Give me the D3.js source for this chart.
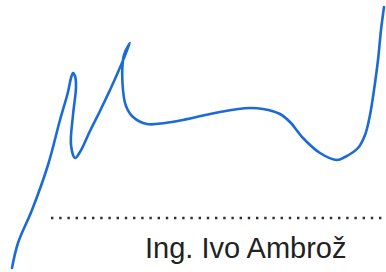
<!DOCTYPE html>
<html>
<head>
<meta charset="utf-8">
<script src="https://cdn.jsdelivr.net/npm/d3@7"></script>
<style>
  html, body { margin: 0; padding: 0; background: #fff; }
  svg { display: block; }
</style>
</head>
<body>
<div id="chart"></div>
<script>
// Signature stroke, traced in 386x272 units
const sigX = [12, 18, 32, 48, 60, 68, 71, 73, 75, 76, 73, 71, 75, 80, 90, 100, 115, 130,
  125, 123, 123, 126, 133, 147, 165, 183, 220, 250, 263, 280, 290, 303, 320, 337, 345,
  358, 365, 370, 374, 378, 381, 384];
const sigY = [268, 243, 210, 165, 120, 92, 78, 73, 76, 87, 115, 145, 158, 152, 131, 111, 79, 43,
  52, 60, 90, 106, 117, 124, 123, 120, 112, 108, 109, 114, 122, 138, 153, 160, 157,
  148, 135, 115, 90, 60, 30, 7];

// Signature line and name
const lineStart = 51;
const lineEnd = 386;
const lineY = 218;
const nameLabel = 'Ing. Ivo Ambrož';

const width = 386;
const height = 272;

const svg = d3.select('#chart')
  .append('svg')
  .attr('width', width)
  .attr('height', height);

const xScale = d3.scaleLinear().domain([0, 386]).range([0, width]);
const yScale = d3.scaleLinear().domain([0, 272]).range([0, height]);

const points = sigX.map((x, i) => ({ x: x, y: sigY[i] }));

const line = d3.line()
  .x(d => xScale(d.x))
  .y(d => yScale(d.y))
  .curve(d3.curveCatmullRom.alpha(0.5));

// Ink stroke
svg.append('path')
  .datum(points)
  .attr('d', line)
  .style('fill', 'none')
  .style('stroke', '#1c6ad6')
  .style('stroke-width', '2.6px')
  .style('stroke-linecap', 'round')
  .style('stroke-linejoin', 'round');

// Dotted signature line
svg.append('line')
  .attr('x1', xScale(lineStart))
  .attr('x2', xScale(lineEnd))
  .attr('y1', yScale(lineY))
  .attr('y2', yScale(lineY))
  .style('stroke', '#2e2e2e')
  .style('stroke-width', '2.4px')
  .style('stroke-dasharray', '2.4,5.8');

// Name under the line
svg.append('text')
  .attr('x', xScale(145))
  .attr('y', yScale(258))
  .style('font-family', '"Liberation Sans", Arial, sans-serif')
  .style('font-size', '29px')
  .style('fill', '#222')
  .text(nameLabel);
</script>
</body>
</html>
